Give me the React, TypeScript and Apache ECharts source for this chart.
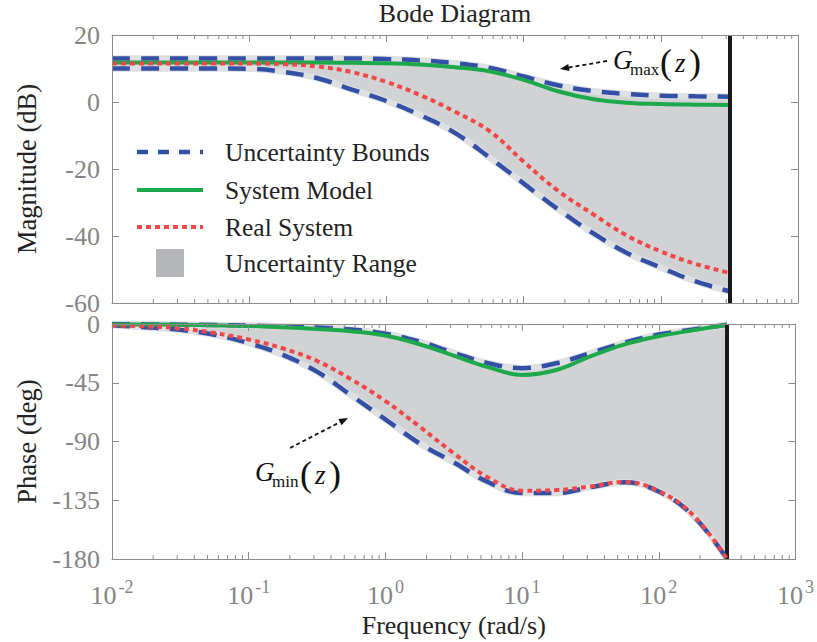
import React, { useEffect, useRef } from 'react';
import * as echarts from 'echarts';

// ---------- data ----------
const FREQ = [0.01, 0.0178, 0.0316, 0.0562, 0.1, 0.178, 0.316, 0.562, 1, 1.78, 3.16, 5.62, 10, 17.8, 31.6, 56.2, 100, 178, 316.2];

const MAG_UPPER = [13, 13, 13, 13, 13, 13, 13, 13, 12.8, 12.4, 11.6, 10.2, 7.6, 5.0, 3.3, 2.4, 1.9, 1.7, 1.6];
const MAG_LOWER = [10, 10, 10, 10, 9.9, 9.0, 7.1, 3.7, 0.3, -4.0, -9.2, -16.5, -24.3, -32, -39, -45, -49.4, -53.5, -56.5];
const MAG_MODEL = [11.8, 11.8, 11.8, 11.8, 11.8, 11.8, 11.8, 11.7, 11.6, 11.2, 10.4, 9.2, 6.6, 3.2, 0.9, -0.2, -0.6, -0.8, -0.9];
const MAG_REAL = [11.5, 11.5, 11.5, 11.5, 11.5, 11.3, 10.6, 8.9, 6.0, 2.0, -2.9, -8.6, -17.8, -26.5, -33.3, -39.8, -44.6, -48.3, -51];

const PH_UPPER = [0, -0.3, -0.5, -0.8, -1.2, -1.8, -2.7, -4.3, -7.5, -13.5, -22, -30, -33.8, -30.1, -22.3, -14.3, -8.1, -4.2, -0.6];
const PH_LOWER = [-1.0, -2.5, -4.5, -8.2, -14.7, -23.7, -36.5, -54.7, -73, -91.5, -106, -121, -129.5, -129.5, -125, -121.2, -128.3, -146.8, -180];
const PH_MODEL = [-0.3, -0.4, -0.6, -1.0, -1.5, -2.5, -3.8, -5.5, -8.8, -15.5, -24.2, -33, -39, -35.2, -24.8, -15.6, -9.4, -4.8, -0.6];
const PH_REAL = [-1.2, -1.8, -3.4, -6.9, -11.9, -18.7, -28.3, -42.4, -59, -78.6, -99, -117.5, -127.7, -127.2, -124.5, -121, -128, -146.3, -180];

const NYQUIST = 316.23;
const MAG_RANGE = [-60, 20];
const MAG_STEP = 20;
const PH_RANGE = [-180, 0];
const PH_STEP = 45;
const FREQ_RANGE = [0.01, 1000];
const MINOR_DECADES = [0.01, 0.1, 1, 10, 100];
const MINOR_MULTS = [2, 3, 4, 5, 6, 7, 8, 9];

const LEGEND_LABELS = ['Uncertainty Bounds', 'System Model', 'Real System', 'Uncertainty Range'];

// ---------- styles ----------
const SERIF = 'Liberation Serif';
const BLUE = '#3450a6';
const GREEN = '#1ca84b';
const RED = '#f04848';
const BAND = '#d1d2d4';
const HALO = '#dfe0e2';
const SWATCH = '#b5b6ba';
const FRAME = '#8a8a8a';
const TICK_TXT = '#858585';
const INK = '#222222';

const pairs = (ys: number[]) => FREQ.map((f, i) => [f, ys[i]]);

const minorTicks: number[][] = [];
MINOR_DECADES.forEach((d) => MINOR_MULTS.forEach((m) => minorTicks.push([d * m, 0])));

function xAxis(gridIndex: number, position: string, showLabel: boolean, name?: string) {
  return {
    type: 'log', logBase: 10, min: FREQ_RANGE[0], max: FREQ_RANGE[1], gridIndex, position, z: 10,
    axisLine: { show: true, onZero: false, lineStyle: { color: FRAME, width: 1 } },
    axisTick: { show: true, inside: true, length: 7, lineStyle: { color: FRAME, width: 1 } },
    splitLine: { show: false },
    axisLabel: showLabel
      ? {
          margin: 19,
          formatter: (v: number) => `{b|10}{e|${Math.round(Math.log10(v))}}`,
          rich: {
            b: { fontFamily: SERIF, fontSize: 26, color: TICK_TXT, lineHeight: 34 },
            e: { fontFamily: SERIF, fontSize: 18, color: TICK_TXT, lineHeight: 18, padding: [0, 0, 16, 2] },
          },
        }
      : { show: false },
    name,
    nameLocation: 'middle',
    nameGap: 49,
    nameTextStyle: { fontFamily: SERIF, fontSize: 26, color: INK },
  };
}

function yAxis(gridIndex: number, position: string, range: number[], step: number, showLabel: boolean, name?: string) {
  return {
    type: 'value', gridIndex, position, min: range[0], max: range[1], interval: step, z: 10,
    axisLine: { show: true, lineStyle: { color: FRAME, width: 1 } },
    axisTick: { show: true, inside: true, length: 7, lineStyle: { color: FRAME, width: 1 } },
    splitLine: { show: false },
    axisLabel: showLabel
      ? { fontFamily: SERIF, fontSize: 26, lineHeight: 18, padding: [5, 0, 0, 0], color: TICK_TXT, margin: 12 }
      : { show: false },
    name,
    nameLocation: 'middle',
    nameGap: 72,
    nameTextStyle: { fontFamily: SERIF, fontSize: 26.5, color: INK },
  };
}

function plotSeries(axisIdx: number, upper: number[], lower: number[], model: number[], real: number[], key: string) {
  const common = { xAxisIndex: axisIdx, yAxisIndex: axisIdx, smooth: 0.4, symbol: 'none', silent: true };
  return [
    // uncertainty range: fill below upper bound, then mask below lower bound
    { ...common, type: 'line', name: LEGEND_LABELS[3], data: pairs(upper), lineStyle: { opacity: 0, width: 0 }, areaStyle: { color: BAND, opacity: 1, origin: 'start' }, z: 1 },
    { ...common, type: 'line', name: '_mask' + key, data: pairs(lower), lineStyle: { opacity: 0, width: 0 }, areaStyle: { color: '#ffffff', opacity: 1, origin: 'start' }, z: 1.5 },
    { ...common, type: 'line', name: '_haloU' + key, data: pairs(upper), lineStyle: { color: HALO, width: 6.5 }, z: 2 },
    { ...common, type: 'line', name: '_haloL' + key, data: pairs(lower), lineStyle: { color: HALO, width: 6.5 }, z: 2 },
    { ...common, type: 'line', name: LEGEND_LABELS[0], data: pairs(upper), lineStyle: { color: BLUE, width: 4.5, type: [18, 11] }, z: 3 },
    { ...common, type: 'line', name: LEGEND_LABELS[0] + ' ', data: pairs(lower), lineStyle: { color: BLUE, width: 4.5, type: [18, 11] }, z: 3 },
    { ...common, type: 'line', name: LEGEND_LABELS[1], data: pairs(model), lineStyle: { color: GREEN, width: 4 }, z: 4 },
    {
      ...common, type: 'line', name: LEGEND_LABELS[2], data: pairs(real), lineStyle: { color: RED, width: 4, type: [5, 4] }, z: 5,
      markLine: {
        silent: true, symbol: 'none', label: { show: false }, animation: false,
        lineStyle: { color: '#1a1a1a', width: 4, type: 'solid' },
        data: [{ xAxis: NYQUIST }],
      },
    },
    {
      type: 'custom', xAxisIndex: axisIdx, yAxisIndex: axisIdx, silent: true, z: 6,
      data: minorTicks,
      renderItem: (params: any, api: any) => {
        const cs = params.coordSys;
        const x = api.coord([api.value(0), api.value(1)])[0];
        const st = { stroke: FRAME, lineWidth: 1 };
        return {
          type: 'group',
          children: [
            { type: 'line', shape: { x1: x, y1: cs.y, x2: x, y2: cs.y + 4 }, style: st },
            { type: 'line', shape: { x1: x, y1: cs.y + cs.height, x2: x, y2: cs.y + cs.height - 4 }, style: st },
          ],
        };
      },
    },
  ];
}

function arrow(x1: number, y1: number, x2: number, y2: number) {
  const dx = x2 - x1, dy = y2 - y1, len = Math.hypot(dx, dy), ux = dx / len, uy = dy / len;
  const hl = 9, hw = 3.5;
  const bx = x2 - ux * hl, by = y2 - uy * hl;
  return [
    { type: 'line', shape: { x1, y1, x2: bx, y2: by }, style: { stroke: '#111', lineWidth: 1.8, lineDash: [4, 3] }, z: 100 },
    { type: 'polygon', shape: { points: [[x2, y2], [bx - uy * hw, by + ux * hw], [bx + uy * hw, by - ux * hw]] }, style: { fill: '#111' }, z: 100 },
  ];
}

function gLabel(x: number, y: number, sub: string, subW: number) {
  const t = (tx: number, ty: number, text: string, size: number, italic: boolean) => ({
    type: 'text', x: tx, y: ty, z: 100,
    style: { text, fontFamily: SERIF, fontSize: size, fontStyle: italic ? 'italic' : 'normal', fill: '#111', align: 'left', verticalAlign: 'middle' },
  });
  return [
    t(x, y, 'G', 27, true),
    t(x + 17, y + 9, sub, 17, false),
    t(x + 20 + subW, y + 2, '(', 36, false),
    t(x + 20 + subW + 15, y + 3, 'z', 27, true),
    t(x + 20 + subW + 29, y + 2, ')', 36, false),
  ];
}

function legendGraphics() {
  const x1 = 137, x2 = 203, tx = 225;
  const rows = [152, 190, 227, 263];
  const txt = (y: number, text: string) => ({
    type: 'text', x: tx, y, z: 100,
    style: { text, fontFamily: SERIF, fontSize: 25.5, fill: INK, align: 'left', verticalAlign: 'middle' },
  });
  return [
    { type: 'line', z: 100, shape: { x1, y1: rows[0], x2, y2: rows[0] }, style: { stroke: BLUE, lineWidth: 4.5, lineDash: [11, 10] } },
    txt(rows[0], LEGEND_LABELS[0]),
    { type: 'line', z: 100, shape: { x1, y1: rows[1], x2, y2: rows[1] }, style: { stroke: GREEN, lineWidth: 4 } },
    txt(rows[1], LEGEND_LABELS[1]),
    { type: 'line', z: 100, shape: { x1, y1: rows[2], x2, y2: rows[2] }, style: { stroke: RED, lineWidth: 4, lineDash: [5, 4] } },
    txt(rows[2], LEGEND_LABELS[2]),
    { type: 'rect', z: 100, shape: { x: 156, y: rows[3] - 14, width: 28, height: 28 }, style: { fill: SWATCH } },
    txt(rows[3], LEGEND_LABELS[3]),
  ];
}

export default function App() {
  const ref = useRef<HTMLDivElement>(null);
  useEffect(() => {
    const chart = echarts.init(ref.current!, null, { renderer: 'svg' });
    const option: any = {
      animation: false,
      backgroundColor: '#ffffff',
      title: {
        text: 'Bode Diagram', left: 455, top: 0, textAlign: 'center', padding: 0,
        textStyle: { fontFamily: SERIF, fontSize: 26, fontWeight: 'normal', color: INK },
      },
      grid: [
        { left: 112, right: 19, top: 35, height: 268 },
        { left: 112, right: 19, top: 324, height: 235 },
      ],
      xAxis: [
        xAxis(0, 'bottom', false),
        xAxis(1, 'bottom', true, 'Frequency (rad/s)'),
        xAxis(0, 'top', false),
        xAxis(1, 'top', false),
      ],
      yAxis: [
        yAxis(0, 'left', MAG_RANGE, MAG_STEP, true, 'Magnitude (dB)'),
        yAxis(1, 'left', PH_RANGE, PH_STEP, true, 'Phase (deg)'),
        yAxis(0, 'right', MAG_RANGE, MAG_STEP, false),
        yAxis(1, 'right', PH_RANGE, PH_STEP, false),
      ],
      series: [
        ...plotSeries(0, MAG_UPPER, MAG_LOWER, MAG_MODEL, MAG_REAL, 'mag'),
        ...plotSeries(1, PH_UPPER, PH_LOWER, PH_MODEL, PH_REAL, 'ph'),
      ],
      graphic: [
        ...legendGraphics(),
        ...arrow(607, 61, 560, 69),
        ...gLabel(613, 60, 'max', 27),
        ...arrow(290, 448, 348, 418),
        ...gLabel(255, 472, 'min', 25),
      ],
    };
    chart.setOption(option);
    return () => chart.dispose();
  }, []);
  return <div ref={ref} style={{ position: 'fixed', left: 0, top: 0, width: 817, height: 642 }} />;
}
